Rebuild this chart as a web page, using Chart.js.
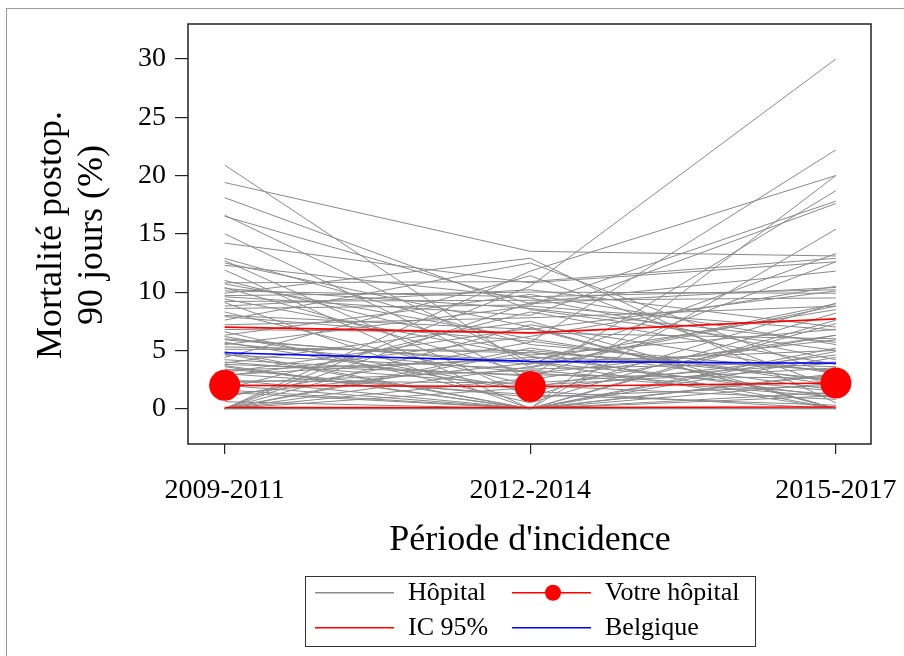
<!DOCTYPE html>
<html>
<head>
<meta charset="utf-8">
<script src="https://cdn.jsdelivr.net/npm/chart.js@4.4.1/dist/chart.umd.min.js"></script>
<style>
html,body{margin:0;padding:0;background:#fff;}
#wrap{width:904px;height:656px;}
</style>
</head>
<body>
<div id="wrap"><canvas id="c" width="904" height="656"></canvas></div>
<script>
// Categories
const periods = ['2009-2011', '2012-2014', '2015-2017'];
const yTicks = [0, 5, 10, 15, 20, 25, 30];

// Hospital values per period (one entry per hospital)
const hosp2009 = [20.9,19.4,18.1,16.6,16.5,15.0,14.2,12.9,12.7,12.5,12.3,11.9,10.8,10.7,10.4,9.9,9.6,9.4,9.1,8.8,
  8.3,8.0,7.6,6.6,6.3,6.0,5.7,5.5,5.1,4.9,4.4,4.2,3.9,3.6,3.3,3.0,2.8,2.5,2.2,1.7,
  1.4,1.0,0.6,0.0,0.0,0.0,0.0,0.0,0.0,0.0,0.0,0.0,5.3,4.6,3.8,2.9,6.8,7.2,9.2,10.1,
  8.6,5.9,4.0,3.4,2.0,1.2,0.0,6.2,7.9,11.0,3.1,4.7,0.0,5.6,2.4,1.6,9.7,10.3,0.0,3.7];
const hosp2012 = [3.5,13.5,8.5,4.0,9.0,2.5,10.8,5.5,1.0,7.0,9.5,0.0,10.9,6.0,3.0,12.9,8.0,4.5,0.0,10.2,
  2.0,6.8,12.5,0.5,9.8,3.8,1.5,8.8,5.0,0.0,11.4,2.8,7.5,0.0,4.2,1.2,6.2,0.0,3.3,8.3,
  0.0,5.7,0.0,10.5,1.8,0.0,3.6,11.8,0.0,5.2,2.6,0.0,4.8,3.4,2.9,4.4,6.5,7.8,9.3,9.6,
  8.9,4.0,2.0,1.0,0.0,3.9,7.2,1.6,5.8,4.6,6.9,0.0,9.1,3.1,2.2,0.0,10.0,8.6,4.9,0.0];
const hosp2015 = [8.8,13.1,5.0,1.5,10.4,6.3,12.6,3.2,9.05,0.0,4.2,15.4,12.9,2.0,5.9,0.5,17.6,1.0,20.0,7.0,
  3.5,10.1,2.8,8.2,5.5,13.3,0.0,6.75,2.5,4.9,1.8,18.7,0.0,3.0,8.5,0.3,10.5,5.2,1.2,3.8,
  0.0,22.2,2.2,30.0,6.3,0.0,9.0,20.0,4.4,1.6,12.6,7.6,3.3,4.0,2.6,3.6,6.0,8.8,9.5,10.2,
  17.8,0.0,0.8,2.0,1.4,5.0,3.0,4.6,2.3,6.8,0.0,7.3,11.8,1.0,3.9,2.9,9.9,5.7,0.0,1.1];

// Reference series
const votreHopital = [2.0, 1.9, 2.2];
const icUpper = [7.0, 6.5, 7.7];
const icLower = [0.1, 0.1, 0.15];
const belgique = [4.8, 4.06, 3.9];

const SERIF = '"Liberation Serif", "DejaVu Serif", serif';
const pts = arr => arr.map((v, i) => ({x: i + 1, y: v}));

const datasets = [];
datasets.push({label: 'Votre hôpital', data: pts(votreHopital), borderColor: '#ff0000', backgroundColor: '#ff0000',
  borderWidth: 1.6, pointRadius: 15.5, pointHoverRadius: 15.5, pointBorderWidth: 0, order: 0});
datasets.push({label: 'Belgique', data: pts(belgique), borderColor: '#0000ff', borderWidth: 1.6, pointRadius: 0, order: 1});
datasets.push({label: 'IC 95%', data: pts(icUpper), borderColor: '#ff0000', borderWidth: 1.6, pointRadius: 0, order: 2});
datasets.push({label: 'IC 95% bas', data: pts(icLower), borderColor: '#ff0000', borderWidth: 1.6, pointRadius: 0, order: 2});
for (let h = 0; h < hosp2009.length; h++) {
  datasets.push({label: 'Hôpital', data: pts([hosp2009[h], hosp2012[h], hosp2015[h]]),
    borderColor: '#8a8a8a', borderWidth: 1, pointRadius: 0, order: 3});
}

const decor = {
  id: 'decor',
  beforeDraw(chart) {
    const ctx = chart.ctx;
    ctx.save();
    ctx.fillStyle = '#fff';
    ctx.fillRect(0, 0, chart.width, chart.height);
    ctx.restore();
  },
  afterDraw(chart) {
    const ctx = chart.ctx;
    const a = chart.chartArea;
    ctx.save();
    // outer frame
    ctx.strokeStyle = '#9a9a9a';
    ctx.lineWidth = 1;
    ctx.strokeRect(6.5, 8.5, 1000, 1000);
    // plot box
    ctx.strokeStyle = '#222';
    ctx.lineWidth = 1.5;
    ctx.strokeRect(a.left, a.top, a.right - a.left, a.bottom - a.top);
    // axis titles
    ctx.fillStyle = '#000';
    ctx.font = '36px ' + SERIF;
    ctx.textAlign = 'center';
    ctx.textBaseline = 'middle';
    ctx.fillText("Période d'incidence", 530, 541);
    ctx.save();
    ctx.translate(52, 235);
    ctx.rotate(-Math.PI / 2);
    ctx.fillText('Mortalité postop.', 0, 0);
    ctx.restore();
    ctx.save();
    ctx.translate(93, 235);
    ctx.rotate(-Math.PI / 2);
    ctx.fillText('90 jours (%)', 0, 0);
    ctx.restore();
    // legend
    ctx.strokeStyle = '#333';
    ctx.lineWidth = 1;
    ctx.strokeRect(305.5, 576.5, 450, 70);
    const rows = [592, 627];
    const items = [
      {x: 315, y: rows[0], color: '#8a8a8a', text: 'Hôpital', dot: false},
      {x: 512, y: rows[0], color: '#ff0000', text: 'Votre hôpital', dot: true},
      {x: 315, y: rows[1], color: '#ff0000', text: 'IC 95%', dot: false},
      {x: 512, y: rows[1], color: '#0000ff', text: 'Belgique', dot: false}
    ];
    ctx.font = '26px ' + SERIF;
    ctx.textAlign = 'left';
    ctx.textBaseline = 'middle';
    items.forEach(it => {
      ctx.fillStyle = it.color;
      ctx.fillRect(it.x, it.y, 79, 1.5);
      if (it.dot) {
        ctx.beginPath();
        ctx.arc(it.x + 41, it.y + 0.75, 8, 0, Math.PI * 2);
        ctx.fill();
      }
      ctx.fillStyle = '#000';
      ctx.fillText(it.text, it.x + 93, it.y + 1);
    });
    ctx.restore();
  }
};

new Chart(document.getElementById('c'), {
  type: 'line',
  data: {datasets},
  options: {
    responsive: false,
    animation: false,
    devicePixelRatio: 1,
    layout: {padding: {left: 0, top: 24, right: 33, bottom: 0}},
    plugins: {legend: {display: false}, tooltip: {enabled: false}},
    elements: {line: {tension: 0}},
    scales: {
      x: {
        type: 'linear', min: 0.88, max: 3.115,
        afterBuildTicks: s => { s.ticks = [1, 2, 3].map(v => ({value: v})); },
        afterFit: s => { s.height = 212; s.paddingLeft = 0; s.paddingRight = 0; },
        grid: {display: true, drawOnChartArea: false, drawTicks: true, tickLength: 10, color: '#222', lineWidth: 1.2},
        border: {display: false},
        ticks: {callback: v => periods[v - 1] || '', color: '#000', padding: 20, maxRotation: 0,
          font: {family: SERIF, size: 28}}
      },
      y: {
        type: 'linear', min: -3.03, max: 33.0,
        afterBuildTicks: s => { s.ticks = yTicks.map(v => ({value: v})); },
        afterFit: s => { s.width = 188; s.paddingTop = 0; s.paddingBottom = 0; },
        grid: {display: true, drawOnChartArea: false, drawTicks: true, tickLength: 13, color: '#222', lineWidth: 1.2},
        border: {display: false},
        ticks: {color: '#000', padding: 9, font: {family: SERIF, size: 28}}
      }
    }
  },
  plugins: [decor]
});
</script>
</body>
</html>
